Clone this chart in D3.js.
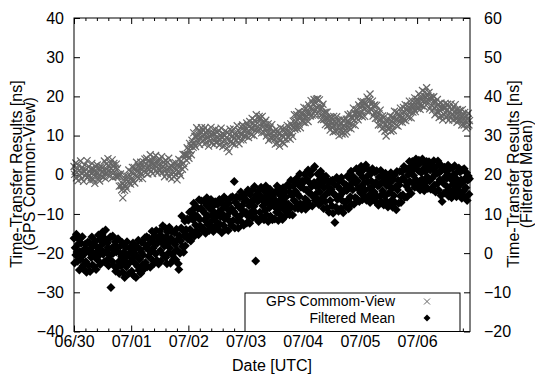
<!DOCTYPE html>
<html>
<head>
<meta charset="utf-8">
<script src="https://cdn.jsdelivr.net/npm/d3@7"></script>
<style>
  body { margin: 0; background: #fff; }
  svg text { font-family: "Liberation Sans", Arial, Helvetica, sans-serif; }
</style>
</head>
<body>
<div id="chart"></div>
<script>
// sampling grid: one point every quarter hour from 06/30 00:00 UTC
const startTime = Date.UTC(2011, 5, 30);
const stepHours = 0.25;
const endHours = 166.2;

// GPS common-view result [ns], left axis (one row = 6 hours)
const gpsCommonView = [
  2.1, 0.1, 0.9, 3.0, -0.8, 0.6, 1.6, -1.5, 2.4, 1.1, -0.2, 3.5, 0.4, -1.0, 1.8, 1.3, -1.7, 0.8, 2.6, -0.3, 1.3, 0.2, 3.6, -0.7,
  -0.3, 2.1, 0.8, -1.5, 1.4, -0.7, 2.9, 0.4, -1.2, 1.4, 0.9, -2.2, 2.2, -0.1, 0.6, 2.5, -1.0, -0.3, 1.7, -1.6, 1.1, 2.0, -0.4, 0.6,
  1.9, -0.5, 1.3, 3.5, 0.3, -1.0, 2.7, 1.4, 0.1, 4.1, 0.9, 2.2, -0.4, 2.9, 1.6, 0.7, 3.8, -0.7, 2.3, 2.9, 0.7, 1.7, -0.4, 2.7,
  -0.4, 1.6, -0.5, 0.1, -2.9, -0.3, 0.2, -2.8, -3.9, -2.2, -5.9, -1.3, -2.8, -4.0, -0.3, -2.9, -1.3, -3.6, -0.4, -1.6, 1.2, -2.1, -0.3, -2.4,
  0.7, -0.9, 1.9, -1.7, 0.3, 1.9, -2.1, 1.3, -0.3, 3.2, -0.5, 0.9, 2.4, -0.9, 1.7, 0.8, 3.2, 0.2, 2.4, -1.0, 1.9, 3.3, 1.0, 4.0,
  0.5, 2.7, 4.2, 1.6, 0.2, 3.5, 2.3, 1.4, 5.1, 0.8, 3.0, 3.6, 0.3, 2.8, 4.4, 1.7, 2.3, 4.9, 1.0, 3.1, 0.4, 3.8, 2.5, 1.2,
  3.9, 1.2, 2.5, 4.6, 0.5, 2.2, 1.3, 3.3, -0.5, 2.7, 3.7, 1.3, 0.4, 3.1, 1.3, 4.2, -0.5, 1.8, 0.3, 2.4, -1.0, 1.9, 2.9, 0.5,
  -0.5, 1.9, 3.1, 0.0, 1.1, -1.3, 2.3, 0.9, 3.9, 0.5, 2.4, -0.2, 3.5, 2.7, 1.4, 5.2, 2.9, 5.1, 2.0, 5.2, 4.9, 3.7, 6.9, 4.9,
  6.4, 4.2, 8.0, 6.2, 7.3, 5.1, 8.8, 8.0, 7.0, 10.7, 7.8, 9.8, 7.2, 9.7, 12.0, 9.0, 8.2, 11.2, 10.1, 7.7, 11.1, 9.2, 12.0, 9.9,
  8.7, 11.3, 10.2, 7.8, 12.0, 9.3, 10.6, 8.3, 11.4, 9.5, 7.3, 10.7, 10.0, 8.7, 12.1, 8.0, 10.2, 10.8, 8.9, 7.7, 10.4, 11.6, 8.3, 9.6,
  10.8, 8.4, 9.5, 11.3, 7.6, 10.0, 9.0, 11.9, 8.1, 9.7, 7.2, 10.4, 10.1, 8.7, 11.2, 7.8, 9.4, 6.8, 10.7, 9.1, 5.9, 10.2, 11.6, 8.3,
  8.6, 11.1, 7.9, 9.9, 11.7, 9.3, 7.7, 10.7, 10.0, 8.7, 12.5, 9.4, 11.3, 7.9, 11.0, 10.4, 8.9, 12.3, 10.2, 12.7, 8.9, 11.3, 9.9, 12.3,
  11.4, 9.8, 13.2, 10.8, 12.6, 9.5, 12.3, 13.6, 10.7, 11.9, 10.2, 14.4, 11.8, 13.1, 10.0, 13.9, 12.7, 11.4, 15.3, 11.9, 13.2, 11.2, 14.2, 14.9,
  11.9, 14.5, 13.1, 10.7, 14.9, 12.1, 13.3, 10.8, 13.4, 11.8, 13.9, 9.9, 12.1, 10.6, 13.0, 8.8, 11.7, 12.1, 9.5, 10.7, 12.8, 9.2, 9.8, 11.0,
  11.1, 9.1, 7.8, 11.5, 9.5, 8.1, 11.0, 9.1, 10.4, 7.3, 10.7, 12.0, 8.9, 10.0, 8.3, 11.7, 9.7, 7.9, 10.8, 11.6, 9.1, 10.7, 12.6, 9.7,
  9.5, 12.2, 10.8, 9.1, 13.0, 10.7, 12.4, 9.8, 13.7, 12.3, 15.3, 11.6, 13.6, 12.5, 15.3, 11.8, 13.9, 16.1, 12.9, 14.8, 12.0, 15.7, 14.8, 13.7,
  15.7, 13.4, 17.2, 14.7, 13.3, 15.9, 17.0, 14.8, 15.9, 13.6, 17.8, 15.6, 17.1, 15.0, 18.9, 16.7, 15.2, 18.1, 16.7, 19.2, 16.2, 15.1, 18.3, 19.3,
  17.2, 19.4, 15.9, 17.5, 19.1, 15.6, 16.7, 14.1, 17.3, 15.6, 18.0, 14.1, 15.9, 14.3, 12.8, 16.0, 14.3, 16.0, 12.5, 14.4, 12.7, 14.7, 11.4, 13.7,
  14.6, 12.3, 13.2, 10.9, 14.9, 12.4, 13.6, 11.1, 13.1, 14.8, 11.3, 12.1, 13.9, 10.0, 12.6, 13.2, 11.3, 14.2, 10.4, 12.2, 10.9, 13.9, 12.5, 10.4,
  12.1, 14.2, 10.9, 13.6, 15.3, 12.0, 13.4, 12.8, 15.5, 11.7, 14.8, 14.4, 12.8, 17.0, 13.9, 15.7, 12.6, 15.5, 16.6, 14.4, 15.6, 14.0, 17.8, 15.5,
  17.2, 15.2, 18.7, 16.0, 14.8, 17.6, 18.6, 16.9, 14.9, 18.4, 17.9, 16.3, 19.8, 17.3, 19.3, 16.3, 18.9, 20.6, 16.8, 17.9, 16.6, 18.8, 15.0, 17.6,
  15.8, 17.8, 14.4, 16.1, 17.7, 14.4, 15.8, 12.7, 15.6, 14.0, 16.5, 12.7, 14.2, 11.7, 15.0, 13.3, 12.1, 14.7, 11.1, 12.9, 9.9, 13.5, 12.4, 11.8,
  14.2, 11.6, 13.0, 15.0, 11.1, 13.7, 12.8, 14.7, 11.3, 14.5, 16.2, 13.0, 14.1, 12.6, 16.0, 14.1, 12.4, 15.6, 15.0, 13.5, 17.0, 14.3, 15.8, 13.4,
  14.7, 17.2, 14.0, 15.9, 17.9, 13.8, 16.6, 15.1, 17.6, 16.3, 14.6, 18.8, 16.2, 17.6, 14.5, 17.5, 18.8, 16.0, 17.5, 16.7, 19.6, 16.1, 18.7, 17.8,
  19.3, 16.9, 18.7, 20.6, 17.8, 16.7, 19.7, 19.0, 17.6, 21.5, 18.7, 20.1, 17.3, 21.1, 19.9, 18.8, 22.2, 18.1, 20.2, 19.1, 21.0, 16.8, 19.3, 19.9,
  17.7, 19.7, 16.5, 18.6, 19.9, 17.2, 15.3, 18.4, 17.4, 16.0, 19.2, 16.1, 18.0, 14.6, 17.3, 16.3, 18.3, 15.0, 16.7, 14.0, 17.5, 16.9, 15.3, 18.2,
  17.2, 14.6, 16.4, 18.0, 15.1, 13.9, 17.2, 16.0, 14.7, 18.1, 15.3, 16.6, 14.0, 17.3, 16.0, 15.0, 17.9, 14.3, 16.0, 13.4, 16.7, 15.0, 16.0, 13.9,
  16.4, 14.0, 15.0, 12.7, 16.6, 14.0, 15.2, 12.7, 15.9, 13.9, 11.9, 15.0, 14.1, 12.3, 15.7, 12.7, 13.8
];

// filtered mean [ns], right axis (one row = 6 hours)
const filteredMean = [
  3.8, -2.5, 1.4, -0.5, 4.8, 0.3, -2.1, 2.3, 3.6, -4.3, 0.4, -1.6, 2.5, -0.9, 4.2, -3.2, 0.8, -4.2, -0.1, 2.3, -2.2, -4.9, 0.8, 2.8,
  -3.1, 2.7, 0.1, -4.7, 1.2, -1.1, 4.1, -3.0, 0.1, 2.1, -3.5, -1.0, 3.0, -4.2, 1.6, 0.4, -1.8, 4.6, -0.6, 3.5, -2.9, 1.9, 0.8, 4.7,
  5.4, -0.3, 2.6, -2.2, 3.7, 5.9, 0.5, -1.8, 2.6, 1.4, -3.2, 3.7, -0.6, 4.1, -8.8, 1.2, -2.1, 4.4, 0.0, -3.2, 1.9, 2.9, -4.6, 0.3,
  -3.6, 1.5, 3.7, -2.2, -5.2, 0.0, 1.8, -3.3, -0.9, 2.7, -4.9, -2.1, 0.3, -6.2, 1.5, -1.1, -3.5, 2.9, -2.8, -0.4, -5.2, 1.3, -2.3, 0.2,
  1.5, -4.6, -1.4, 2.6, -5.7, -0.1, -2.5, 1.0, -6.2, -0.7, 1.7, -3.4, 3.3, -4.4, -1.6, 0.9, -5.2, 0.2, 2.8, -3.0, -0.5, -4.2, 2.4, 3.9,
  -2.4, 1.4, 4.2, -3.5, 1.0, -0.8, 3.8, 2.5, -3.6, 3.2, 0.4, 5.6, -1.8, 1.3, -2.7, 4.3, 2.4, -0.2, 5.8, -1.8, 2.5, 4.0, -2.8, 3.4,
  5.6, 0.7, -2.0, 4.4, 2.6, 7.0, -0.5, 3.4, 1.8, 6.4, -1.1, 4.2, -2.7, 5.3, 2.6, 0.1, 6.6, 1.3, -2.6, 3.8, 5.5, -0.5, 3.0, -1.6,
  0.2, 5.2, 2.2, -1.7, 6.1, 0.8, 3.5, -2.7, -4.2, 4.4, 0.0, 3.1, 6.4, 9.5, 1.7, 5.7, 0.2, 4.3, 8.2, 1.9, 6.0, 4.7, 8.7, 3.7,
  8.4, 4.0, 10.4, 6.0, 3.1, 8.9, 10.9, 5.1, 8.5, 12.7, 4.3, 9.7, 7.2, 11.9, 5.8, 9.4, 11.4, 4.7, 13.6, 8.6, 7.0, 11.4, 13.3, 5.9,
  10.8, 6.2, 13.3, 8.5, 10.1, 5.1, 12.2, 14.1, 7.3, 9.4, 12.6, 5.8, 11.3, 7.9, 13.7, 6.6, 9.7, 11.9, 5.5, 10.5, 8.8, 13.1, 7.0, 9.9,
  7.9, 12.4, 6.1, 10.5, 13.7, 7.4, 9.3, 13.0, 5.2, 11.3, 9.9, 7.1, 14.3, 8.7, 12.0, 6.1, 13.6, 9.4, 11.2, 5.8, 12.7, 8.2, 10.6, 14.1,
  7.1, 11.3, 14.4, 8.3, 10.6, 18.3, 6.4, 13.0, 9.8, 14.4, 8.2, 12.2, 6.4, 11.7, 14.2, 9.5, 15.6, 8.0, 12.1, 10.9, 14.1, 7.1, 13.1, 10.3,
  15.0, 10.4, 7.7, 13.3, 16.1, 9.3, 12.1, 7.6, 14.9, 12.9, 10.5, 16.1, 9.0, 13.6, 11.9, 17.0, 10.4, -2.0, 14.9, 8.8, 13.2, 15.8, 8.1, 13.7,
  10.4, 14.7, 16.8, 9.2, 13.6, 12.1, 16.1, 8.5, 14.2, 10.9, 17.1, 9.8, 13.0, 15.2, 8.1, 13.7, 11.6, 16.3, 9.4, 13.1, 14.7, 8.5, 14.3, 12.1,
  13.7, 8.7, 15.6, 12.7, 10.4, 17.1, 11.2, 8.3, 15.1, 13.4, 9.8, 16.3, 12.2, 14.6, 8.6, 16.7, 11.1, 13.2, 15.7, 9.5, 14.3, 12.3, 17.4, 10.8,
  12.5, 16.9, 9.8, 15.5, 18.6, 11.7, 14.7, 9.7, 17.1, 13.5, 18.4, 11.5, 15.8, 12.9, 19.1, 15.1, 11.4, 17.6, 14.5, 20.2, 12.6, 16.8, 11.2, 18.4,
  17.9, 12.4, 16.4, 20.1, 13.9, 11.2, 18.9, 16.1, 13.3, 21.2, 15.5, 18.0, 12.2, 20.0, 15.1, 17.0, 12.0, 21.4, 14.3, 18.0, 22.1, 13.4, 17.1, 15.2,
  13.9, 20.2, 17.0, 12.4, 18.7, 15.6, 20.9, 12.9, 17.7, 14.1, 19.8, 11.4, 16.7, 18.4, 13.2, 19.6, 15.1, 11.5, 17.0, 18.3, 10.4, 15.6, 13.4, 18.5,
  16.2, 12.1, 18.6, 10.2, 15.1, 17.5, 7.8, 14.8, 11.7, 19.3, 13.7, 17.0, 10.7, 18.4, 14.5, 16.3, 11.4, 19.3, 13.4, 15.4, 10.3, 17.8, 16.1, 13.0,
  11.9, 17.4, 16.0, 19.7, 13.6, 11.3, 19.2, 16.8, 14.4, 20.9, 12.5, 17.9, 16.2, 19.5, 12.5, 19.1, 14.2, 17.8, 21.5, 13.9, 18.4, 16.4, 21.3, 13.2,
  20.3, 15.4, 22.2, 17.1, 13.6, 19.3, 21.3, 14.7, 18.0, 16.1, 22.5, 13.5, 19.6, 18.1, 14.6, 21.2, 16.5, 12.9, 20.2, 18.4, 13.9, 21.5, 15.4, 17.3,
  15.6, 20.7, 13.2, 18.1, 21.0, 14.4, 17.1, 12.2, 19.4, 17.4, 14.6, 21.1, 13.2, 18.1, 15.9, 19.7, 12.3, 18.4, 14.5, 20.4, 13.3, 17.2, 19.0, 11.8,
  19.3, 15.4, 12.6, 18.0, 20.5, 13.4, 16.5, 11.7, 18.8, 14.7, 19.9, 12.9, 17.0, 11.1, 20.8, 16.1, 18.6, 12.7, 17.4, 20.8, 14.6, 12.9, 18.8, 20.8,
  14.9, 19.1, 22.1, 14.2, 18.4, 21.5, 17.1, 14.3, 21.4, 20.0, 16.2, 23.4, 18.3, 21.9, 15.2, 20.9, 23.4, 17.9, 19.8, 23.2, 16.8, 22.0, 24.0, 18.6,
  22.3, 16.9, 21.0, 23.7, 18.3, 16.1, 23.1, 20.5, 18.8, 24.0, 17.3, 21.6, 15.9, 22.8, 20.8, 18.1, 23.4, 19.5, 16.5, 22.1, 23.3, 18.4, 21.2, 16.3,
  22.7, 19.1, 16.3, 21.4, 23.6, 17.3, 20.1, 15.6, 22.0, 20.3, 17.7, 23.5, 16.1, 20.5, 18.7, 22.6, 14.7, 21.1, 13.2, 21.7, 17.8, 15.3, 21.9, 19.4,
  15.5, 20.8, 19.1, 16.9, 22.4, 14.5, 19.7, 21.5, 16.0, 18.8, 14.1, 21.7, 17.6, 20.0, 15.4, 22.3, 16.4, 19.1, 14.4, 20.7, 18.3, 16.0, 21.7, 17.2,
  20.7, 15.2, 18.7, 14.0, 21.2, 18.1, 15.9, 21.5, 14.3, 19.1, 16.7, 20.5, 13.4, 18.6, 19.7, 15.0, 19.0
];

const dateTicks = ["06/30", "07/01", "07/02", "07/03", "07/04", "07/05", "07/06"];
const leftTicks = [-40, -30, -20, -10, 0, 10, 20, 30, 40];
const rightTicks = [-20, -10, 0, 10, 20, 30, 40, 50, 60];
const seriesNames = ["GPS Commom-View", "Filtered Mean"];

const width = 535, height = 381;
const plot = { left: 74, right: 470, top: 18, bottom: 331.5 };
const hourMs = 3600 * 1000;
const grey = "#666";

const svg = d3.select("#chart").append("svg")
    .attr("width", width)
    .attr("height", height);

const x = d3.scaleUtc()
    .domain([new Date(startTime), new Date(startTime + endHours * hourMs)])
    .range([plot.left, plot.right]);

const yLeft = d3.scaleLinear().domain([-40, 40]).range([plot.bottom, plot.top]);
const yRight = d3.scaleLinear().domain([-20, 60]).range([plot.bottom, plot.top]);

const dayDates = dateTicks.map((d, i) => new Date(startTime + i * 24 * hourMs));
const minorDates = d3.range(0, endHours, 4.8)
    .map(h => new Date(startTime + h * hourMs))
    .filter(d => !dayDates.some(dd => Math.abs(dd - d) < 1000));

function styleAxis(g) {
    g.select(".domain").remove();
    g.selectAll("line").attr("stroke", "#000");
    g.selectAll("text").attr("fill", "#000").style("font-size", "16px");
}

// bottom axis, major + minor
svg.append("g")
    .attr("transform", `translate(0,${plot.bottom})`)
    .call(d3.axisBottom(x).tickValues(dayDates).tickFormat((d, i) => dateTicks[i]).tickSize(-6).tickPadding(4.5))
    .call(styleAxis);
svg.append("g")
    .attr("transform", `translate(0,${plot.bottom})`)
    .call(d3.axisBottom(x).tickValues(minorDates).tickFormat("").tickSize(-3))
    .call(styleAxis);

// top mirror ticks
svg.append("g")
    .attr("transform", `translate(0,${plot.top})`)
    .call(d3.axisTop(x).tickValues(dayDates).tickFormat("").tickSize(-6))
    .call(styleAxis);
svg.append("g")
    .attr("transform", `translate(0,${plot.top})`)
    .call(d3.axisTop(x).tickValues(minorDates).tickFormat("").tickSize(-3))
    .call(styleAxis);

// left / right axes
svg.append("g")
    .attr("transform", `translate(${plot.left},0)`)
    .call(d3.axisLeft(yLeft).tickValues(leftTicks).tickSize(-6).tickPadding(10))
    .call(styleAxis);

svg.append("g")
    .attr("transform", `translate(${plot.right},0)`)
    .call(d3.axisRight(yRight).tickValues(rightTicks).tickSize(-6).tickPadding(14))
    .call(styleAxis);

// axis titles
svg.append("text")
    .attr("x", (plot.left + plot.right) / 2)
    .attr("y", 371)
    .attr("text-anchor", "middle")
    .style("font-size", "16px")
    .text("Date [UTC]");

const leftTitle = svg.append("text")
    .attr("transform", "translate(0,174) rotate(-90)")
    .attr("text-anchor", "middle")
    .style("font-size", "16px");
leftTitle.append("tspan").attr("x", 0).attr("y", 22).text("Time-Transfer Results [ns]");
leftTitle.append("tspan").attr("x", 0).attr("y", 34.5).text("(GPS Common-View)");

const rightTitle = svg.append("text")
    .attr("transform", "translate(0,174) rotate(-90)")
    .attr("text-anchor", "middle")
    .style("font-size", "16px");
rightTitle.append("tspan").attr("x", 0).attr("y", 519).text("Time-Transfer Results [ns]");
rightTitle.append("tspan").attr("x", 0).attr("y", 531.5).text("(Filtered Mean)");

// marks
const crossPath = "M-3.5,-3.5L3.5,3.5M-3.5,3.5L3.5,-3.5";
const diamondPath = "M0,-4.5L4.5,0L0,4.5L-4.5,0Z";
const timeAt = i => new Date(startTime + i * stepHours * hourMs);

svg.append("g")
    .selectAll("path")
    .data(gpsCommonView)
    .enter()
    .append("path")
    .attr("d", crossPath)
    .attr("transform", (d, i) => `translate(${x(timeAt(i))},${yLeft(d)})`)
    .attr("fill", "none")
    .attr("stroke", grey)
    .attr("stroke-width", 1.2);

svg.append("g")
    .selectAll("path")
    .data(filteredMean)
    .enter()
    .append("path")
    .attr("d", diamondPath)
    .attr("transform", (d, i) => `translate(${x(timeAt(i))},${yRight(d)})`)
    .attr("fill", "#000");

// frame on top of marks
svg.append("rect")
    .attr("x", plot.left)
    .attr("y", plot.top)
    .attr("width", plot.right - plot.left)
    .attr("height", plot.bottom - plot.top)
    .attr("fill", "none")
    .attr("stroke", "#000")
    .attr("stroke-width", 1);

// legend
const legend = svg.append("g");
legend.append("rect")
    .attr("x", 245)
    .attr("y", 293)
    .attr("width", 215)
    .attr("height", plot.bottom - 293)
    .attr("fill", "#fff")
    .attr("stroke", "#000");

legend.append("text")
    .attr("x", 395).attr("y", 306)
    .attr("text-anchor", "end")
    .style("font-size", "14px")
    .text(seriesNames[0]);
legend.append("path")
    .attr("d", "M-3,-3L3,3M-3,3L3,-3")
    .attr("transform", "translate(427,301.5)")
    .attr("stroke", grey)
    .attr("fill", "none");

legend.append("text")
    .attr("x", 395).attr("y", 323)
    .attr("text-anchor", "end")
    .style("font-size", "14px")
    .text(seriesNames[1]);
legend.append("path")
    .attr("d", "M0,-3.5L3.5,0L0,3.5L-3.5,0Z")
    .attr("transform", "translate(427,318)")
    .attr("fill", "#000");
</script>
</body>
</html>
